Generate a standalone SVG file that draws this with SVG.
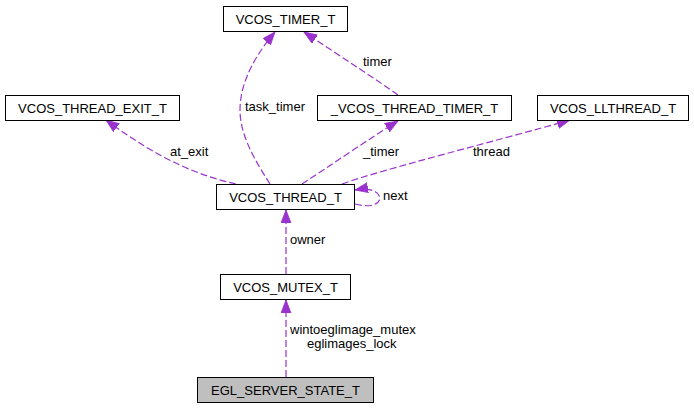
<svg xmlns="http://www.w3.org/2000/svg" width="694" height="409" viewBox="0 0 694 409">
<style>
.box{fill:#fff;stroke:#000;stroke-width:1}
.main{fill:#bfbfbf;stroke:#000;stroke-width:1}
text{font-family:"Liberation Sans",Arial,sans-serif;font-size:13px;fill:#000}
.c{text-anchor:middle}
.e{fill:none;stroke:#9a32cd;stroke-width:1.2;stroke-dasharray:7,3;marker-end:url(#ah)}
</style>
<defs>
<marker id="ah" markerUnits="userSpaceOnUse" markerWidth="14" markerHeight="11" refX="13" refY="5" orient="auto">
<path d="M0,0 L13,5 L0,10 z" fill="#9a32cd" stroke="#9a32cd" stroke-width="0.8"/>
</marker>
</defs>
<g id="edges">
<path class="e" d="M270,184 C256,162 240,136 240,110 C240,80 258,52 275,32"/>
<path class="e" d="M398,95 C380,82 340,56 304,32"/>
<path class="e" d="M302,184 C330,166 370,138 398,121"/>
<path class="e" d="M342,184 C380,170 500,140 570,120"/>
<path class="e" d="M236,184 C200,176 160,160 106,120"/>
<path class="e" d="M355,204 C388,213 388,184 355,190"/>
<path class="e" d="M286,274 L286,210"/>
<path class="e" d="M286,377 L286,300"/>
<text x="245" y="111">task_timer</text>
<text x="363" y="66">timer</text>
<text x="363" y="156">_timer</text>
<text x="473" y="156">thread</text>
<text x="170" y="156">at_exit</text>
<text x="383" y="200">next</text>
<text x="290" y="244">owner</text>
<text x="290" y="334">wintoeglimage_mutex</text>
<text x="307" y="348">eglimages_lock</text>
</g>
<g id="VCOS_TIMER_T"><rect class="box" x="223.5" y="6.5" width="124" height="25"/><text class="c" x="285.5" y="23.5">VCOS_TIMER_T</text></g>
<g id="VCOS_THREAD_EXIT_T"><rect class="box" x="5.5" y="95.5" width="174" height="25"/><text class="c" x="92.5" y="112.5">VCOS_THREAD_EXIT_T</text></g>
<g id="_VCOS_THREAD_TIMER_T"><rect class="box" x="317.5" y="95.5" width="194" height="25"/><text class="c" x="414.5" y="112.5">_VCOS_THREAD_TIMER_T</text></g>
<g id="VCOS_LLTHREAD_T"><rect class="box" x="537.5" y="95.5" width="151" height="25"/><text class="c" x="613" y="112.5">VCOS_LLTHREAD_T</text></g>
<g id="VCOS_THREAD_T"><rect class="box" x="216.5" y="184.5" width="138" height="25"/><text class="c" x="285.5" y="201.5">VCOS_THREAD_T</text></g>
<g id="VCOS_MUTEX_T"><rect class="box" x="220.5" y="274.5" width="130" height="25"/><text class="c" x="285.5" y="291.5">VCOS_MUTEX_T</text></g>
<g id="EGL_SERVER_STATE_T"><rect class="main" x="197.5" y="377.5" width="176" height="25"/><text class="c" x="285.5" y="394.5">EGL_SERVER_STATE_T</text></g>
</svg>
